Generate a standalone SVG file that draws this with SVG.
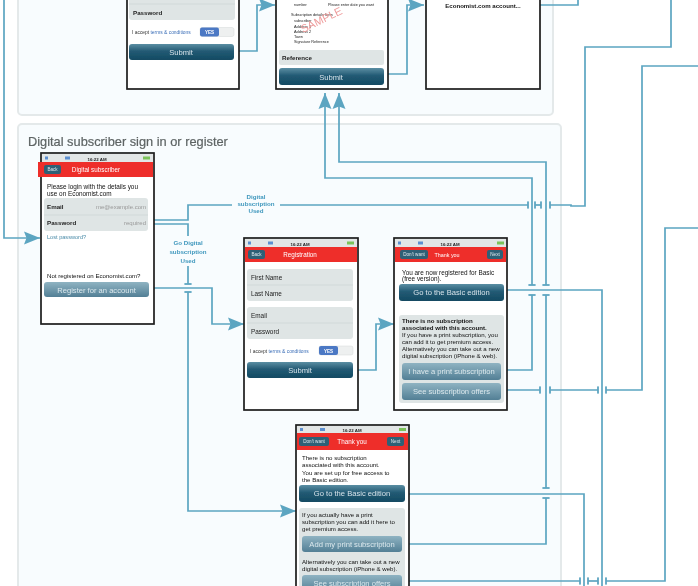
<svg xmlns="http://www.w3.org/2000/svg" width="698" height="586" viewBox="0 0 698 586">
<style>
text{font-family:"Liberation Sans",Arial,sans-serif}
.panel{fill:#f8fcfe;stroke:#e4e9ea;stroke-width:2}
.title{font-size:12.8px;fill:#5e6464;stroke:#5e6464;stroke-width:.2}
.phone{fill:#fff;stroke:#1c1c1c;stroke-width:1.7}
.status{fill:#e2e6e6}
.st{font-size:4.4px;fill:#222;text-anchor:middle;font-weight:bold}
.bat{fill:#7cc35a}
.sig{fill:#5b8fd0}
.hd{fill:#ee2d2b}
.ht{font-size:6.3px;fill:#fff;text-anchor:middle}
.hb{fill:#2f6076}
.hbt{font-size:4.6px;fill:#dfe9ee;text-anchor:middle}
.t{font-size:6.1px;fill:#111}
.t2{font-size:6.4px;fill:#111}
.g{fill:#dfe5e5}
.div{stroke:#c9d0d0;stroke-width:.6}
.lb{font-size:6.4px;fill:#222}
.lbb{font-size:6.2px;fill:#222;font-weight:bold}
.ph{font-size:6px;fill:#999;text-anchor:end}
.btn{fill:url(#dark)}
.btn2{fill:url(#mid)}
.bt{font-size:7.6px;fill:#d6e3ea;text-anchor:middle}
.bt2{font-size:7.6px;fill:#dbe8ed;text-anchor:middle}
.link{font-size:4.9px;fill:#3c6fb8}
.y{fill:#4c78c4}
.n{fill:#eef0f0;stroke:#d5d9d9;stroke-width:.5}
.yt{font-size:4.6px;fill:#fff;text-anchor:middle;font-weight:bold}
.c{fill:none;stroke:#5ca5c1;stroke-width:1.7}
.a{marker-end:url(#arrow)}
.te{marker-end:url(#tick)}
.ts{marker-start:url(#tick)}
.lab{font-size:6.2px;font-weight:bold;fill:#3f97bd;text-anchor:middle}
.labbg{fill:#f8fcfe}
.sample{font-size:11px;fill:#ee9a9a}
.sm{font-size:3.8px;fill:#222}
</style>
<defs>
<linearGradient id="dark" x1="0" y1="0" x2="0" y2="1"><stop offset="0" stop-color="#5b8ea3"/><stop offset=".45" stop-color="#235a74"/><stop offset="1" stop-color="#124a62"/></linearGradient>
<linearGradient id="mid" x1="0" y1="0" x2="0" y2="1"><stop offset="0" stop-color="#8fb3c2"/><stop offset="1" stop-color="#527f95"/></linearGradient>
<marker id="arrow" markerUnits="userSpaceOnUse" markerWidth="18" markerHeight="14" refX="16" refY="7" orient="auto"><path d="M0 .5L16 7L0 13.5L2.5 7Z" fill="#5ca5c1"/></marker>
<marker id="tick" markerUnits="userSpaceOnUse" markerWidth="3" markerHeight="8" refX="1.5" refY="4" orient="auto"><rect x=".6" y=".4" width="1.8" height="7.2" fill="#5ca5c1"/></marker>
<filter id="soft" filterUnits="userSpaceOnUse" x="0" y="0" width="698" height="586"><feGaussianBlur stdDeviation="0.7"/></filter>
</defs>
<rect width="698" height="586" fill="#fff"/>
<g filter="url(#soft)">
<g id="panels">
<rect class="panel" x="18" y="-20" width="535" height="135" rx="4"/>
<rect class="panel" x="18" y="124" width="543" height="480" rx="4"/>
<text class="title" x="28" y="146">Digital subscriber sign in or register</text>
</g>

<g id="connectors">
<path class="c a" d="M4 0V238H40"/>
<path class="c a" d="M236 51H257V5H275"/>
<path class="c a" d="M387 74H407V5H424"/>
<path class="c" d="M540 5H578V0"/>
<path class="c ts a" d="M546 285V162H339V93"/>
<path class="c ts a" d="M532 285V178H325V93"/>
<path class="c ts" d="M532 295V370H506"/>
<path class="c ts te" d="M546 295V488"/>
<path class="c ts" d="M546 498V544H405"/>
<path class="c" d="M506 290H602V586"/>
<path class="c te" d="M506 390H540"/>
<path class="c ts te" d="M550 390H598"/>
<path class="c ts" d="M606 390H642V66H698"/>
<path class="c" d="M405 494H584V586"/>
<path class="c te" d="M405 581H580"/>
<path class="c ts te" d="M588 581H598"/>
<path class="c ts" d="M606 581H665V228H698"/>
<path class="c te" d="M152 220H188V205H528"/>
<path class="c ts te" d="M535 205H541"/>
<path class="c ts" d="M550 205H571V206H585V47H671V0"/>
<path class="c te" d="M152 224H188V284"/>
<path class="c ts a" d="M188 292V511H296"/>
<path class="c a" d="M152 288H212V324H244"/>
<path class="c a" d="M355 370H376V324H394"/>
</g>

<g id="label-digital-used">
<rect class="labbg" x="232" y="192" width="48" height="26"/>
<text class="lab" x="256" y="199">Digital</text>
<text class="lab" x="256" y="206">subscription</text>
<text class="lab" x="256" y="213">Used</text>
</g>
<g id="label-go-digital">
<rect class="labbg" x="166" y="236" width="46" height="30"/>
<text class="lab" x="188" y="245">Go Digital</text>
<text class="lab" x="188" y="254">subscription</text>
<text class="lab" x="188" y="263">Used</text>
</g>

<g id="phone-register-top">
<rect class="phone" x="127" y="-60" width="112" height="149"/>
<rect class="g" x="129" y="-10" width="106" height="30" rx="3"/>
<line class="div" x1="129" y1="4" x2="235" y2="4"/>
<text class="lbb" x="133" y="14.500">Password</text>
<text class="link" x="132" y="34"><tspan fill="#333">I accept </tspan>terms &amp; conditions</text>
<rect class="n" x="200" y="27.500" width="34" height="9" rx="2"/>
<rect class="y" x="200" y="27.500" width="19" height="9" rx="2"/>
<text class="yt" x="209.500" y="34">YES</text>
<rect class="btn" x="129" y="44" width="105" height="16" rx="3"/>
<text class="bt" x="181" y="55">Submit</text>
</g>

<g id="phone-form-top">
<rect class="phone" x="276" y="-60" width="112" height="149"/>
<text class="sm" x="294" y="6">number</text>
<text class="sm" x="328" y="6">Please enter date you want</text>
<text class="sm" x="291" y="16">Subscription details form</text>
<text class="sm" x="294" y="22">subscriber</text>
<text class="sm" x="294" y="28">Address 1</text>
<text class="sm" x="294" y="33">Address 2</text>
<text class="sm" x="294" y="38">Town</text>
<text class="sm" x="294" y="43">Signature  Reference</text>
<text class="sample" x="303" y="33" transform="rotate(-26 303 33)">SAMPLE</text>
<rect class="g" x="279" y="50" width="105" height="15" rx="2"/>
<text class="lbb" x="282" y="60">Reference</text>
<rect class="btn" x="279" y="68" width="105" height="17" rx="3"/>
<text class="bt" x="331" y="79.500">Submit</text>
</g>

<g id="phone-confirm-top">
<rect class="phone" x="426" y="-60" width="114" height="149"/>
<text class="t" x="483" y="8" text-anchor="middle" font-weight="bold">Economist.com account...</text>
</g>

<g id="phone-login">
<rect class="phone" x="41" y="153" width="113" height="171"/>
<rect class="status" x="42" y="154" width="111" height="8"/>
<rect class="sig" x="45" y="156.500" width="3" height="3"/><rect class="sig" x="65" y="156.500" width="5" height="3"/><text class="st" x="97" y="160.500">16:22 AM</text><rect class="bat" x="143" y="156.500" width="7" height="3"/>
<rect class="hd" x="38" y="162" width="115" height="15"/>
<rect class="hb" x="44" y="165" width="17" height="9" rx="2"/><text class="hbt" x="52.500" y="171">Back</text>
<text class="ht" x="96" y="171.700">Digital subscriber</text>
<text class="t2" x="47" y="188.800">Please login with the details you</text>
<text class="t2" x="47" y="195.500">use on Economist.com</text>
<rect class="g" x="44" y="198" width="104" height="33" rx="3"/>
<line class="div" x1="44" y1="215" x2="148" y2="215"/>
<text class="lbb" x="47" y="209">Email</text><text class="ph" x="146" y="209">me@example.com</text>
<text class="lbb" x="47" y="225">Password</text><text class="ph" x="146" y="225">required</text>
<text class="link" x="47" y="238.500" style="fill:#4a8ba8;font-size:5.6px">Lost password?</text>
<text class="t" x="47" y="278">Not registered on Economist.com?</text>
<rect class="btn2" x="44" y="282" width="105" height="15" rx="3"/>
<text class="bt2" x="96.500" y="292.500">Register for an account</text>
</g>

<g id="phone-registration">
<rect class="phone" x="244" y="238" width="114" height="172"/>
<rect class="status" x="245" y="239" width="112" height="8"/>
<rect class="sig" x="248" y="241.500" width="3" height="3"/><rect class="sig" x="268" y="241.500" width="5" height="3"/><text class="st" x="300" y="245.500">16:22 AM</text><rect class="bat" x="347" y="241.500" width="7" height="3"/>
<rect class="hd" x="245" y="247" width="112" height="15"/>
<rect class="hb" x="248" y="250" width="17" height="9" rx="2"/><text class="hbt" x="256.500" y="256">Back</text>
<text class="ht" x="300" y="256.700">Registration</text>
<rect class="g" x="247" y="269" width="106" height="32" rx="3"/>
<line class="div" x1="247" y1="285" x2="353" y2="285"/>
<text class="lb" x="251" y="279.500">First Name</text>
<text class="lb" x="251" y="295.500">Last Name</text>
<rect class="g" x="247" y="307" width="106" height="32" rx="3"/>
<line class="div" x1="247" y1="323" x2="353" y2="323"/>
<text class="lb" x="251" y="317.500">Email</text>
<text class="lb" x="251" y="333.500">Password</text>
<text class="link" x="250" y="352.500"><tspan fill="#333">I accept </tspan>terms &amp; conditions</text>
<rect class="n" x="319" y="346" width="34" height="9" rx="2"/>
<rect class="y" x="319" y="346" width="19" height="9" rx="2"/>
<text class="yt" x="328.500" y="352.500">YES</text>
<rect class="btn" x="247" y="362" width="106" height="16" rx="3"/>
<text class="bt" x="300" y="372.700">Submit</text>
</g>

<g id="phone-thanks">
<rect class="phone" x="394" y="238" width="113" height="172"/>
<rect class="status" x="395" y="239" width="111" height="8"/>
<rect class="sig" x="398" y="241.500" width="3" height="3"/><rect class="sig" x="418" y="241.500" width="5" height="3"/><text class="st" x="450" y="245.500">16:22 AM</text><rect class="bat" x="497" y="241.500" width="7" height="3"/>
<rect class="hd" x="395" y="247" width="111" height="15"/>
<rect class="hb" x="400" y="250" width="28" height="9" rx="2"/><text class="hbt" x="414" y="256">Don't want</text>
<text class="ht" x="447" y="256.500" style="font-size:5.4px">Thank you</text>
<rect class="hb" x="487" y="250" width="16" height="9" rx="2"/><text class="hbt" x="495" y="256">Next</text>
<text class="t2" x="402" y="274.800">You are now registered for Basic</text>
<text class="t2" x="402" y="281.300">(free version).</text>
<rect class="btn" x="399" y="284" width="105" height="17" rx="3"/>
<text class="bt" x="451.500" y="295.300">Go to the Basic edition</text>
<rect class="g" x="399" y="315" width="105" height="88" rx="3"/>
<text class="t" x="402" y="323" font-weight="bold">There is no subscription</text>
<text class="t" x="402" y="330" font-weight="bold">associated with this account.</text>
<text class="t" x="402" y="337">If you have a print subscription, you</text>
<text class="t" x="402" y="344">can add it to get premium access.</text>
<text class="t" x="402" y="351">Alternatively you can take out a new</text>
<text class="t" x="402" y="358">digital subscription (iPhone &amp; web).</text>
<rect class="btn2" x="402" y="363" width="99" height="17" rx="3"/>
<text class="bt2" x="451.500" y="374.300">I have a print subscription</text>
<rect class="btn2" x="402" y="383" width="99" height="17" rx="3"/>
<text class="bt2" x="451.500" y="394.300">See subscription offers</text>
</g>

<g id="phone-no-subscription">
<rect class="phone" x="296" y="425" width="113" height="200"/>
<rect class="status" x="297" y="426" width="111" height="7"/>
<rect class="sig" x="300" y="428" width="3" height="3"/><rect class="sig" x="320" y="428" width="5" height="3"/><text class="st" x="352" y="431.500">16:22 AM</text><rect class="bat" x="399" y="428" width="7" height="3"/>
<rect class="hd" x="297" y="433" width="111" height="17"/>
<rect class="hb" x="299" y="437" width="30" height="9" rx="2"/><text class="hbt" x="314" y="443">Don't want</text>
<text class="ht" x="352" y="443.700">Thank you</text>
<rect class="hb" x="387" y="437" width="17" height="9" rx="2"/><text class="hbt" x="395.500" y="443">Next</text>
<text class="t" x="302" y="460">There is no subscription</text>
<text class="t" x="302" y="467">associated with this account.</text>
<text class="t" x="302" y="474.500">You are set up for free access to</text>
<text class="t" x="302" y="482">the Basic edition.</text>
<rect class="btn" x="299" y="485" width="106" height="17" rx="3"/>
<text class="bt" x="352" y="496.300">Go to the Basic edition</text>
<rect class="g" x="299" y="508" width="106" height="90" rx="3"/>
<text class="t" x="302" y="517">If you actually have a print</text>
<text class="t" x="302" y="524">subscription you can add it here to</text>
<text class="t" x="302" y="531">get premium access.</text>
<rect class="btn2" x="302" y="536" width="100" height="16" rx="3"/>
<text class="bt2" x="352" y="546.800">Add my print subscription</text>
<text class="t" x="302" y="564">Alternatively you can take out a new</text>
<text class="t" x="302" y="571">digital subscription (iPhone &amp; web).</text>
<rect class="btn2" x="302" y="575" width="100" height="17" rx="3"/>
<text class="bt2" x="352" y="585.500">See subscription offers</text>
</g>
</g>
</svg>
